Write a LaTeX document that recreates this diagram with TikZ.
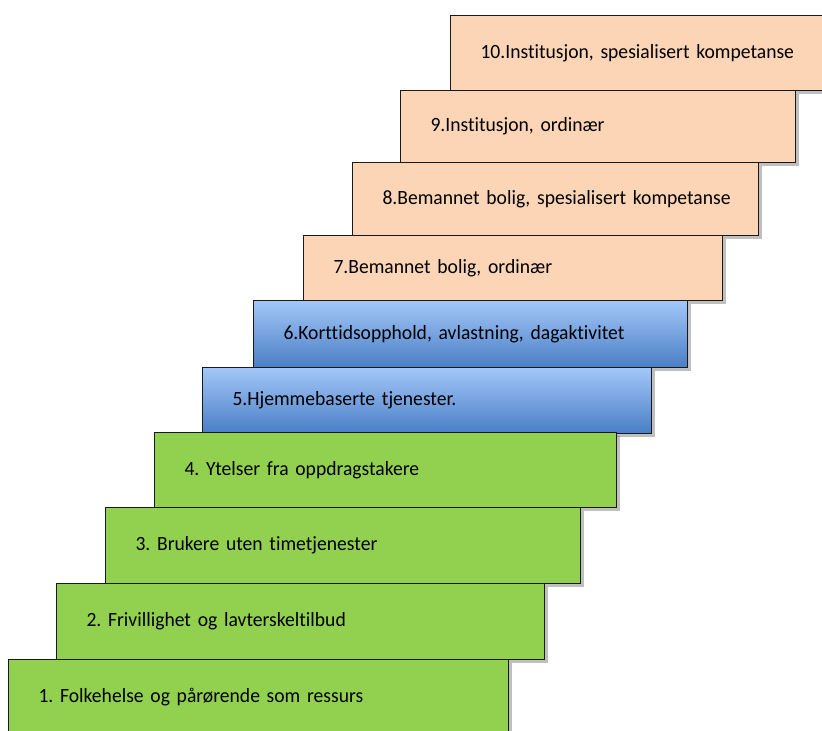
\documentclass[tikz,border=0pt]{standalone}
\usepackage{fontspec}
\setmainfont{Carlito}[FakeStretch=0.97, WordSpace=0.7, Ligatures=NoCommon]
\usetikzlibrary{shadows}
\frenchspacing

\definecolor{stepgreen}{HTML}{92D050}
\definecolor{steppeach}{HTML}{FBD5B5}
\definecolor{bluetop}{HTML}{A3C7F8}
\definecolor{bluebottom}{HTML}{4A7EC6}

\tikzset{
  stepbox/.style={rectangle, draw=black!90, line width=0.6pt, anchor=north west,
    inner xsep=0pt, inner ysep=0pt, align=left,
    font=\fontsize{11.5}{13}\selectfont,
    execute at begin node={\hspace*{0.6cm}},
    drop shadow={shadow xshift=2pt, shadow yshift=-2pt, fill=black, opacity=0.25}},
  greenstep/.style={stepbox, fill=stepgreen},
  bluestep/.style={stepbox, top color=bluetop, bottom color=bluebottom},
  peachstep/.style={stepbox, fill=steppeach}
}

\begin{document}
\begin{tikzpicture}[]
    \clip (0,0) rectangle (16.44,14.62);
    % upper steps (institution and housing)
    \node[peachstep, minimum height=1.5cm, text width=7.6cm] (s10) at (9.00,14.32) {10.Institusjon, spesialisert kompetanse};
    \node[peachstep, minimum height=1.44cm, text width=7.9cm] (s9) at (8.00,12.82) {9.Institusjon, ordinær};
    \node[peachstep, minimum height=1.46cm, text width=8.12cm] (s8) at (7.04,11.38) {8.Bemannet bolig, spesialisert kompetanse};
    \node[peachstep, minimum height=1.30cm, text width=8.38cm] (s7) at (6.06,9.92) {7.Bemannet bolig, ordinær};
    % middle steps
    \node[bluestep, minimum height=1.34cm, text width=8.68cm] (s6) at (5.06,8.62) {6.Korttidsopphold, avlastning, dagaktivitet};
    \node[bluestep, minimum height=1.32cm, text width=8.98cm] (s5) at (4.04,7.28) {5.Hjemmebaserte tjenester.};
    % lower steps
    \node[greenstep, minimum height=1.50cm, text width=9.24cm] (s4) at (3.08,5.98) {4. Ytelser fra oppdragstakere};
    \node[greenstep, minimum height=1.52cm, text width=9.5cm] (s3) at (2.10,4.48) {3. Brukere uten timetjenester};
    \node[greenstep, minimum height=1.52cm, text width=9.76cm] (s2) at (1.12,2.96) {2. Frivillighet og lavterskeltilbud};
    \node[greenstep, minimum height=1.52cm, text width=10.0cm] (s1) at (0.16,1.44) {1. Folkehelse og pårørende som ressurs};
\end{tikzpicture}
\end{document}
